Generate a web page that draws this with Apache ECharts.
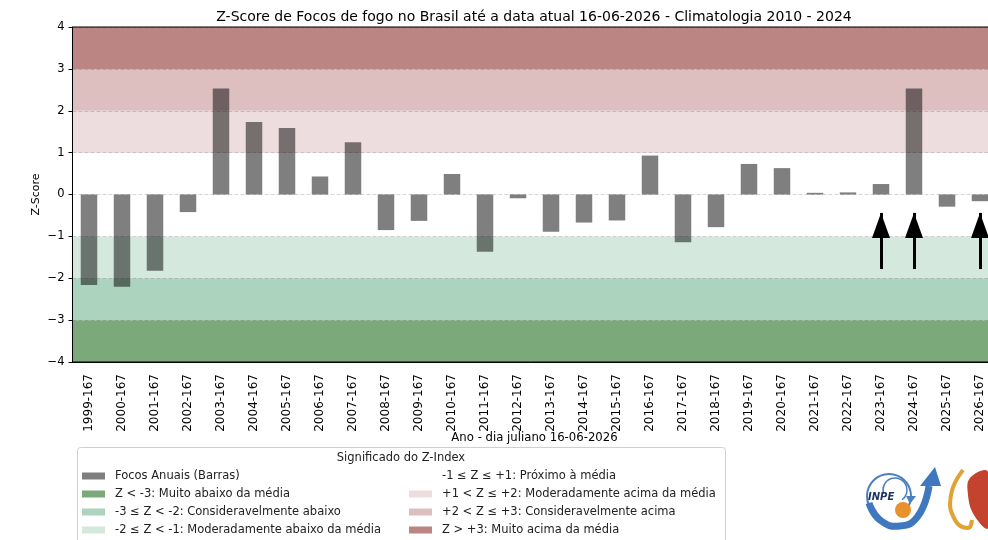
<!DOCTYPE html>
<html><head><meta charset="utf-8">
<script src="https://cdn.jsdelivr.net/npm/echarts@6/dist/echarts.min.js"></script>
<style>html,body{margin:0;padding:0;background:#fff}#c{width:988px;height:540px}</style>
</head><body><div id="c"></div>
<script>
// ---- data ----
const categories = ['1999-167','2000-167','2001-167','2002-167','2003-167','2004-167','2005-167','2006-167','2007-167','2008-167','2009-167','2010-167','2011-167','2012-167','2013-167','2014-167','2015-167','2016-167','2017-167','2018-167','2019-167','2020-167','2021-167','2022-167','2023-167','2024-167','2025-167','2026-167'];
const zScores = [-2.16,-2.20,-1.82,-0.42,2.53,1.73,1.59,0.43,1.25,-0.85,-0.63,0.49,-1.37,-0.09,-0.89,-0.67,-0.62,0.93,-1.14,-0.78,0.73,0.63,0.04,0.05,0.25,2.53,-0.29,-0.16];
const barName = 'Focos Anuais (Barras)';
const bandNames = ['Z < -3: Muito abaixo da média','-3 \u2264 Z < -2: Consideravelmente abaixo','-2 \u2264 Z < -1: Moderadamente abaixo da média','-1 \u2264 Z \u2264 +1: Próximo à média','+1 < Z \u2264 +2: Moderadamente acima da média','+2 < Z \u2264 +3: Consideravelmente acima','Z > +3: Muito acima da média'];
const bandLow = [-4,-3,-2,-1,1,2,3];
const bandHigh = [-3,-2,-1,1,2,3,4];
const arrowYears = ['2023-167','2024-167','2026-167'];
const arrowFrom = -1.78;
const arrowTip = -0.44;
const yMin = -4, yMax = 4;
const titleText = 'Z-Score de Focos de fogo no Brasil até a data atual 16-06-2026 - Climatologia 2010 - 2024';
const xTitle = 'Ano - dia juliano 16-06-2026';
const yTitle = 'Z-Score';
const legendTitle = 'Significado do Z-Index';
// ---- styles ----
const bandColors = ['#7ba97a','#acd3be','#d4e8dd','#ffffff','#eedddf','#ddbfc0','#bb8583'];
const FONT = 'DejaVu Sans';

const chart = echarts.init(document.getElementById('c'));
const bandSeries = bandNames.map((n, i) => ({
  type: 'line', name: n, data: [], z: -1, color: bandColors[i],
  itemStyle: { color: bandColors[i], borderWidth: 0 },
  lineStyle: { color: bandColors[i] },
  markArea: {
    silent: true, z: -1,
    itemStyle: { color: bandColors[i], opacity: 1, borderWidth: 0 },
    data: [[{ yAxis: bandLow[i] }, { yAxis: bandHigh[i] }]]
  }
}));

const legendText = { fontSize: 11.5, fontFamily: FONT, color: '#222', lineHeight: 14, padding: [0,0,0,5] };
const legendCommon = { orient: 'vertical', top: 469, height: 71, padding: 0,
  itemWidth: 23, itemHeight: 7, itemGap: 4, icon: 'rect', selectedMode: false,
  itemStyle: { borderWidth: 0 }, textStyle: legendText };

chart.setOption({
  animation: false,
  title: { text: titleText, left: 534, top: 10, padding: 0, textAlign: 'center',
    textStyle: { fontFamily: FONT, fontSize: 14, fontWeight: 'normal', color: '#000' } },
  grid: { left: 72.5, width: 924, top: 27, bottom: 178, outerBoundsMode: 'none', containLabel: false,
    show: true, borderColor: '#000', borderWidth: 1, backgroundColor: 'transparent' },
  xAxis: {
    type: 'category', data: categories,
    axisLine: { onZero: false, lineStyle: { color: '#000' } },
    axisTick: { alignWithLabel: true, length: 4, lineStyle: { color: '#000' } },
    axisLabel: { rotate: 90, margin: 12, fontSize: 12, fontFamily: FONT, color: '#000', interval: 0 },
    name: xTitle, nameLocation: 'middle', nameGap: 70, nameMoveOverlap: false,
    nameTextStyle: { fontSize: 11.7, fontFamily: FONT, color: '#000' }
  },
  yAxis: {
    type: 'value', min: yMin, max: yMax, interval: 1,
    axisLine: { show: true, lineStyle: { color: '#000' } },
    axisTick: { show: true, length: 4, lineStyle: { color: '#000' } },
    axisLabel: { fontSize: 11.5, fontFamily: FONT, color: '#000', margin: 8,
      formatter: v => String(v).replace('-', '\u2212') },
    splitLine: { show: true, lineStyle: { color: 'rgba(0,0,0,0.16)', type: [4, 2], width: 1 } },
    name: yTitle, nameLocation: 'middle', nameGap: 31, nameMoveOverlap: false,
    nameTextStyle: { fontSize: 11, fontFamily: FONT, color: '#000' }
  },
  legend: [
    Object.assign({ data: [barName, bandNames[0], bandNames[1], bandNames[2]], left: 82 }, legendCommon),
    Object.assign({ data: [bandNames[3], bandNames[4], bandNames[5], bandNames[6]], left: 409 }, legendCommon)
  ],
  graphic: [
    { type: 'rect', shape: { x: 77.5, y: 447.5, width: 648, height: 100, r: 3 }, z: -5,
      style: { fill: '#fff', stroke: '#cfcfcf', lineWidth: 1 } },
    { type: 'text', x: 401, y: 458, style: { text: legendTitle, fontFamily: FONT, fontSize: 11.5, fill: '#222', align: 'center', verticalAlign: 'middle' } },
    // INPE logo (approximation)
    { type: 'arc', shape: { cx: 889, cy: 496, r: 22, startAngle: Math.PI * 0.75, endAngle: Math.PI * 0.15, clockwise: true },
      style: { stroke: '#4a7fc0', lineWidth: 2, fill: null } },
    { type: 'arc', shape: { cx: 895, cy: 490, r: 12, startAngle: Math.PI * 0.9, endAngle: Math.PI * 0.3, clockwise: true },
      style: { stroke: '#4a7fc0', lineWidth: 1.5, fill: null } },
    { type: 'polygon', shape: { points: [[906, 496], [916, 496], [910, 504]] }, style: { fill: '#4a7fc0' } },
    { type: 'polyline', shape: { points: [[869, 503], [880, 520], [900, 526], [918, 516], [929, 486]], smooth: 0.5 },
      style: { stroke: '#3f78bf', lineWidth: 7, fill: null } },
    { type: 'polygon', shape: { points: [[920, 486], [941, 486], [935, 467]] }, style: { fill: '#3f78bf' } },
    { type: 'circle', shape: { cx: 903, cy: 510, r: 8 }, style: { fill: '#e8912d' } },
    { type: 'text', x: 868, y: 497, style: { text: 'INPE', fontFamily: FONT, fontSize: 10, fontStyle: 'italic', fontWeight: 'bold', fill: '#1d3560', verticalAlign: 'middle' } },
    { type: 'polyline', shape: { points: [[963, 470], [951, 495], [955, 520], [968, 528], [972, 520]], smooth: 0.5 },
      style: { stroke: '#e0a235', lineWidth: 4, fill: null } },
    { type: 'polygon', shape: { points: [[970, 478], [988, 472], [988, 528], [974, 515], [968, 495]], smooth: 0.4 },
      style: { fill: '#c4432e' } }
  ],
  series: [
    {
      type: 'bar', name: barName, data: zScores, barWidth: '50%', z: 2,
      color: 'rgba(0,0,0,0.5)',
      itemStyle: { color: 'rgba(0,0,0,0.5)' },
      markLine: {
        silent: true, symbol: ['none', 'triangle'], symbolSize: [0, 25], symbolOffset: [0, [0, 12.5]],
        lineStyle: { color: '#000', width: 3, type: 'solid', opacity: 1 },
        itemStyle: { color: '#000' },
        label: { show: false }, emphasis: { disabled: true },
        data: arrowYears.map(y => [{ coord: [y, arrowFrom] }, { coord: [y, arrowTip], symbolSize: [18, 25] }])
      }
    },
    ...bandSeries
  ]
});
</script></body></html>
